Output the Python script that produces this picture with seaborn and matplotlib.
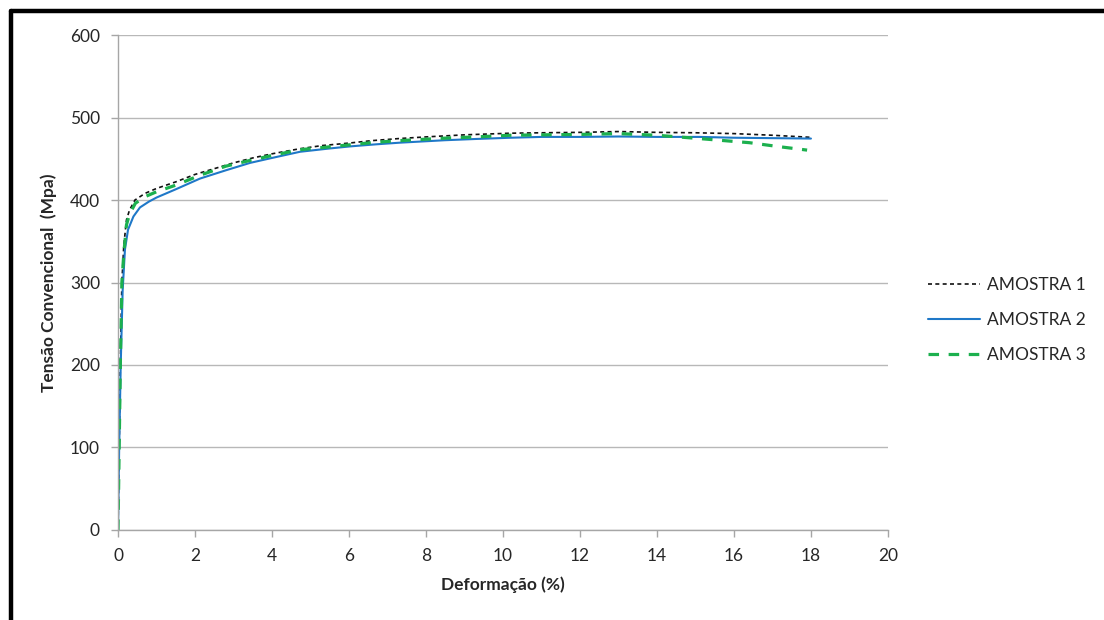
import numpy as np
import pandas as pd
import matplotlib.pyplot as plt
from matplotlib.lines import Line2D
import seaborn as sns

# curvas tensao x deformacao
def_1 = [0, 0.03, 0.06, 0.10, 0.15, 0.22, 0.30, 0.44, 0.70, 1.0, 1.5, 2.0, 2.5, 3.0, 3.5, 4.0,
         4.7, 5.3, 6.0, 6.6, 7.3, 8.0, 9.0, 10.2, 11.0, 12.0, 13.0, 14.0, 15.0, 16.0, 17.0, 18.0]
ten_1 = [0, 100, 200, 300, 345, 376, 388, 400, 408, 414, 422, 431, 438, 445, 451, 456,
         462, 466, 469, 472, 474.5, 476.5, 479, 481, 481.5, 482, 483, 482, 481.5, 480.5, 478.5, 476]

def_2 = [0, 0.03, 0.07, 0.12, 0.18, 0.26, 0.40, 0.57, 0.80, 1.0, 1.5, 2.13, 2.8, 3.43, 4.0, 4.73,
         5.5, 6.03, 6.7, 7.32, 8.5, 9.3, 10.2, 11.0, 12.0, 13.0, 14.0, 15.1, 16.0, 17.0, 18.0]
ten_2 = [0, 100, 200, 290, 340, 364, 380, 391, 398, 403, 413, 426, 436, 445, 451, 458.5,
         462.5, 465, 467.5, 469.5, 472.5, 474, 475.5, 476.5, 476.5, 477, 476.5, 476.5, 475.5, 475, 474.5]

def_3 = [0, 0.03, 0.06, 0.10, 0.15, 0.22, 0.30, 0.45, 0.70, 1.0, 1.5, 2.13, 2.8, 3.43, 4.0, 4.73,
         5.5, 6.03, 6.7, 7.32, 8.5, 9.3, 10.2, 11.0, 12.0, 13.0, 14.0, 15.1, 16.0, 16.4, 17.2, 17.9]
ten_3 = [0, 100, 200, 300, 335, 370, 383, 396, 404, 410, 418, 430, 441, 448, 454, 461,
         464.5, 467, 470, 472, 475, 476.5, 478.5, 479, 479.5, 480.5, 478.5, 474.5, 471, 469.5, 464.5, 460.5]

amostras = ['AMOSTRA 1', 'AMOSTRA 2', 'AMOSTRA 3']
x_ticks = [0, 2, 4, 6, 8, 10, 12, 14, 16, 18, 20]
y_ticks = [0, 100, 200, 300, 400, 500, 600]

df = pd.concat([
    pd.DataFrame({'def': def_1, 'ten': ten_1, 'Amostra': amostras[0]}),
    pd.DataFrame({'def': def_2, 'ten': ten_2, 'Amostra': amostras[1]}),
    pd.DataFrame({'def': def_3, 'ten': ten_3, 'Amostra': amostras[2]}),
], ignore_index=True)

sns.set_style('white')
plt.rcParams['font.family'] = ['Lato', 'DejaVu Sans']

cores = {'AMOSTRA 1': '#111111', 'AMOSTRA 2': '#1f78c8', 'AMOSTRA 3': '#1cb04e'}
tracos = {'AMOSTRA 1': (2.4, 2.0), 'AMOSTRA 2': '', 'AMOSTRA 3': (3.3, 3.0)}
largs = {'AMOSTRA 1': 1.2, 'AMOSTRA 2': 1.5, 'AMOSTRA 3': 2.3}

fig, ax = plt.subplots(figsize=(11.04, 6.2), dpi=100)
fig.subplots_adjust(left=0.1069, right=0.8043, top=0.9435, bottom=0.1452)

sns.lineplot(data=df, x='def', y='ten', hue='Amostra', style='Amostra', size='Amostra',
             palette=cores, dashes=tracos, sizes=largs, estimator=None, sort=False, ax=ax)

ax.set_xlim(0, 20)
ax.set_ylim(0, 600)
ax.set_xticks(x_ticks)
ax.set_yticks(y_ticks)
ax.yaxis.grid(True, color='#b8b8b8', lw=1)
ax.set_axisbelow(True)
for s in ['top', 'right']:
    ax.spines[s].set_visible(False)
for s in ['left', 'bottom']:
    ax.spines[s].set_color('#a6a6a6')
    ax.spines[s].set_linewidth(1)
ax.tick_params(axis='both', which='major', length=5, width=1, color='#a6a6a6',
               labelsize=12.5, labelcolor='#262626', direction='out', left=True, bottom=True)
ax.tick_params(axis='y', pad=8)
ax.tick_params(axis='x', pad=8)

ax.set_xlabel('Deformação (%)', fontsize=12.5, fontweight='bold', color='#262626', labelpad=9)
ax.set_ylabel('Tensão Convencional  (Mpa)', fontsize=12.5, fontweight='bold', color='#262626', labelpad=9)

handles, labels = ax.get_legend_handles_labels()
hs = [h for h, l in zip(handles, labels) if l in amostras]
ls = [l for l in labels if l in amostras]
ax.legend(hs, ls, loc='center left', bbox_to_anchor=(928 / 1104, 1 - 320 / 620),
          bbox_transform=fig.transFigure, frameon=False, fontsize=12.5, handlelength=3.0,
          handletextpad=0.4, labelspacing=1.1, borderpad=0, borderaxespad=0)

# moldura preta (so lado esquerdo e topo aparecem)
x0 = 10.5 / 1104
y0 = 1 - 10.5 / 620
fig.add_artist(Line2D([x0, x0], [0, y0], transform=fig.transFigure, color='black', lw=3.2))
fig.add_artist(Line2D([x0, 1], [y0, y0], transform=fig.transFigure, color='black', lw=3.2))

plt.savefig('out.png', dpi=100)
